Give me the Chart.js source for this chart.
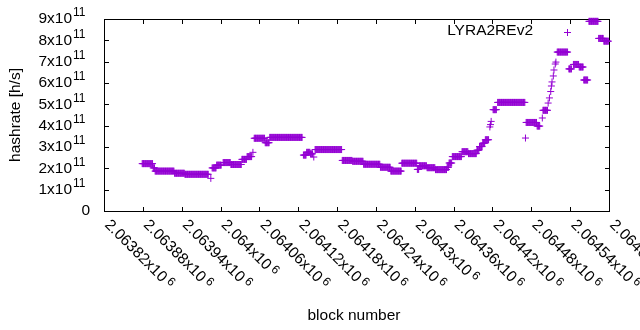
<!DOCTYPE html>
<html><head><meta charset="utf-8">
<script src="https://cdn.jsdelivr.net/npm/chart.js@4.4.1/dist/chart.umd.min.js"></script>
<style>html,body{margin:0;padding:0;background:#fff}canvas{display:block}</style>
</head><body>
<canvas id="c" width="640" height="330"></canvas>
<script>
const seriesName = "LYRA2REv2";
const xTitle = "block number";
const yTitle = "hashrate [h/s]";
const xTickValues = [2063820,2063880,2063940,2064000,2064060,2064120,2064180,2064240,2064300,2064360,2064420,2064480,2064540,2064600];
const xTickLabels = ["2.06382x10","2.06388x10","2.06394x10","2.064x10","2.06406x10","2.06412x10","2.06418x10","2.06424x10","2.0643x10","2.06436x10","2.06442x10","2.06448x10","2.06454x10","2.0646x10"];
const xTickPower = "6";
const yTickValues = [0,1e11,2e11,3e11,4e11,5e11,6e11,7e11,8e11,9e11];
const yTickLabels = ["0","1x10","2x10","3x10","4x10","5x10","6x10","7x10","8x10","9x10"];
const yTickPower = ["","11","11","11","11","11","11","11","11","11"];

// runs of consecutive blocks sharing the same hashrate
const runStartBlock = [2063879,2063896,2063899,2063929,2063945,2063985,2063987,2063994,2064004,2064016,2064033,2064041,2064050,2064052,2064069,2064076,2064128,2064133,2064139,2064144,2064146,2064188,2064204,2064221,2064247,2064263,2064280,2064304,2064307,2064319,2064332,2064350,2064353,2064358,2064373,2064383,2064396,2064400,2064405,2064409,2064416,2064417,2064418,2064421,2064428,2064471,2064472,2064489,2064497,2064498,2064506,2064508,2064510,2064511,2064512,2064514,2064515,2064517,2064518,2064520,2064538,2064545,2064554,2064561,2064569,2064584,2064592];
const runEndBlock   = [2063895,2063898,2063928,2063944,2063981,2063985,2063993,2064001,2064015,2064032,2064040,2064048,2064050,2064068,2064075,2064126,2064132,2064138,2064142,2064144,2064187,2064203,2064220,2064246,2064262,2064279,2064303,2064306,2064318,2064331,2064349,2064352,2064357,2064372,2064382,2064395,2064399,2064404,2064408,2064414,2064416,2064417,2064418,2064426,2064470,2064471,2064488,2064493,2064497,2064505,2064506,2064508,2064510,2064511,2064512,2064514,2064515,2064517,2064518,2064536,2064542,2064553,2064560,2064567,2064583,2064591,2064599];
const runHashrate   = [2.22e11,2.02e11,1.87e11,1.77e11,1.72e11,1.53e11,2.02e11,2.15e11,2.27e11,2.18e11,2.42e11,2.55e11,2.75e11,3.41e11,3.20e11,3.45e11,2.62e11,2.75e11,2.68e11,2.53e11,2.88e11,2.37e11,2.33e11,2.19e11,2.05e11,1.87e11,2.24e11,1.95e11,2.12e11,2.03e11,1.94e11,2.05e11,2.25e11,2.55e11,2.78e11,2.69e11,2.85e11,3.02e11,3.18e11,3.34e11,3.94e11,4.05e11,4.20e11,4.75e11,5.09e11,3.42e11,4.15e11,3.98e11,4.36e11,4.72e11,5.06e11,5.30e11,5.60e11,5.86e11,6.05e11,6.33e11,6.61e11,6.89e11,6.98e11,7.45e11,6.66e11,6.87e11,6.75e11,6.14e11,8.89e11,8.09e11,7.96e11];

const points = [];
for (let i = 0; i < runStartBlock.length; i++) {
  for (let b = runStartBlock[i]; b <= runEndBlock[i]; b++) points.push({x: b, y: runHashrate[i]});
}

const COLOR = '#9400D3';
const FONT = 'Liberation Sans, Arial, sans-serif';
const FS = 15.5, SFS = 12;

function drawCross(ctx, x, y, r) {
  ctx.beginPath();
  ctx.moveTo(x - r, y); ctx.lineTo(x + r, y);
  ctx.moveTo(x, y - r); ctx.lineTo(x, y + r);
  ctx.stroke();
}

const framePlugin = {
  id: 'gnuframe',
  beforeDatasetsDraw(chart) {
    const ctx = chart.ctx, a = chart.chartArea;
    const xs = chart.scales.x, ys = chart.scales.y;
    ctx.save();
    ctx.strokeStyle = '#000'; ctx.lineWidth = 1;
    const L = Math.round(a.left) + 0.5, R = Math.round(a.right) + 0.5, T = Math.round(a.top) + 0.5, B = Math.round(a.bottom) + 0.5;
    ctx.strokeRect(L, T, R - L, B - T);
    ctx.beginPath();
    xTickValues.forEach(v => {
      const px = Math.round(xs.getPixelForValue(v)) + 0.5;
      ctx.moveTo(px, B); ctx.lineTo(px, B - 4.5);
      ctx.moveTo(px, T); ctx.lineTo(px, T + 4.5);
    });
    yTickValues.forEach(v => {
      const py = Math.round(ys.getPixelForValue(v)) + 0.5;
      ctx.moveTo(L, py); ctx.lineTo(L + 4.5, py);
      ctx.moveTo(R, py); ctx.lineTo(R - 4.5, py);
    });
    ctx.stroke();
    ctx.restore();
  },
  afterDraw(chart) {
    const ctx = chart.ctx, a = chart.chartArea;
    const xs = chart.scales.x, ys = chart.scales.y;
    ctx.save();
    ctx.fillStyle = '#000';
    // y tick labels
    yTickValues.forEach((v, i) => {
      const py = ys.getPixelForValue(v);
      if (yTickPower[i]) {
        ctx.font = FS + 'px ' + FONT; ctx.textAlign = 'right'; ctx.textBaseline = 'middle';
        ctx.fillText(yTickLabels[i], 72, py);
        ctx.font = SFS + 'px ' + FONT; ctx.textAlign = 'left';
        ctx.fillText(yTickPower[i], 73, py - 6);
      } else {
        ctx.font = FS + 'px ' + FONT; ctx.textAlign = 'right'; ctx.textBaseline = 'middle';
        ctx.fillText(yTickLabels[i], 90, py);
      }
    });
    // x tick labels rotated -45 (clockwise)
    xTickValues.forEach((v, i) => {
      const px = xs.getPixelForValue(v);
      ctx.save();
      ctx.translate(px, 225.5);
      ctx.rotate(Math.PI / 4);
      ctx.font = FS + 'px ' + FONT; ctx.textAlign = 'left'; ctx.textBaseline = 'alphabetic';
      ctx.fillText(xTickLabels[i], 0, 0);
      const w = ctx.measureText(xTickLabels[i]).width;
      ctx.font = SFS + 'px ' + FONT;
      ctx.fillText(xTickPower, w + 3, -4);
      ctx.restore();
    });
    // axis titles
    ctx.font = FS + 'px ' + FONT; ctx.textAlign = 'center'; ctx.textBaseline = 'middle';
    ctx.fillText(xTitle, 354, 316);
    ctx.save();
    ctx.translate(16, 115);
    ctx.rotate(-Math.PI / 2);
    ctx.fillText(yTitle, 0, 0);
    ctx.restore();
    // key
    ctx.textAlign = 'right';
    ctx.fillText(seriesName, 533, 31);
    ctx.strokeStyle = COLOR; ctx.lineWidth = 1;
    drawCross(ctx, 567.5, 32.5, 3.5);
    ctx.restore();
  }
};

new Chart(document.getElementById('c').getContext('2d'), {
  type: 'scatter',
  data: { datasets: [{
    label: seriesName, data: points,
    pointStyle: 'cross', pointRadius: 3.5, pointHoverRadius: 3.5,
    pointBorderWidth: 1, borderColor: COLOR, backgroundColor: COLOR,
    clip: 6
  }]},
  options: {
    responsive: false, animation: false, events: [],
    layout: { padding: { left: 104, right: 31, top: 19, bottom: 119 } },
    scales: {
      x: { type: 'linear', display: false, min: 2063820, max: 2064600 },
      y: { type: 'linear', display: false, min: 0, max: 9e11 }
    },
    plugins: { legend: { display: false }, tooltip: { enabled: false } }
  },
  plugins: [framePlugin]
});
</script>
</body></html>
